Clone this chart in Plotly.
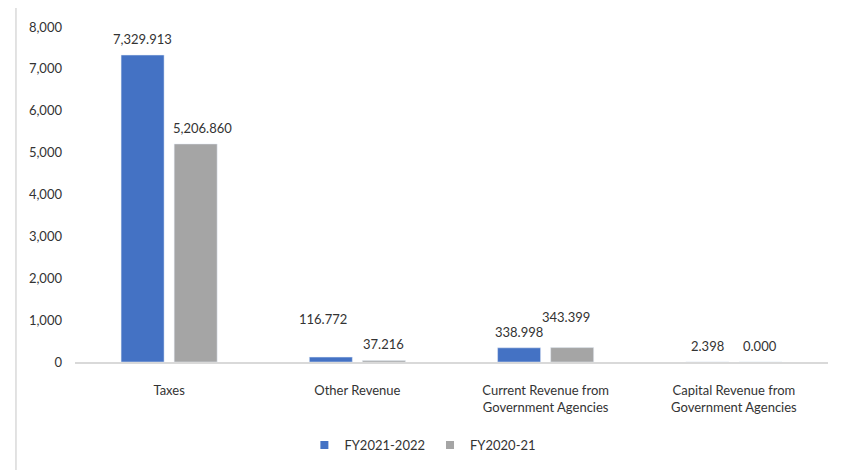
import plotly.graph_objects as go

# data
categories = ["Taxes", "Other Revenue",
              "Current Revenue from<br>Government Agencies",
              "Capital Revenue from<br>Government Agencies"]
fy2122 = [7329.913, 116.772, 338.998, 2.398]
fy2021 = [5206.860, 37.216, 343.399, 0.000]
series_names = ["FY2021-2022", "FY2020-21"]

# label nudges (pixels) the way Excel moved them around
nudge_x_2122 = [0, -8, 0, 0]
nudge_y_2122 = [0, 22, 0, 0]
nudge_x_2021 = [7, 0, -6, 0]
nudge_y_2021 = [0, 0, 15, 0]

BLUE = "#4472C4"
GREY = "#A5A5A5"
TEXT = "#333333"
FONT = "Lato"

fig = go.Figure()

fig.add_trace(go.Bar(x=categories, y=fy2122, name=series_names[0],
                     marker_color=BLUE, showlegend=False))
fig.add_trace(go.Bar(x=categories, y=fy2021, name=series_names[1],
                     marker_color=GREY, showlegend=False))

# small square legend markers
for name, col in zip(series_names, [BLUE, GREY]):
    fig.add_trace(go.Scatter(x=[None], y=[None], mode="markers", name=name,
                             marker=dict(symbol="square", size=8, color=col)))

# data labels
for vals, side, nx, ny in [(fy2122, -26.5, nudge_x_2122, nudge_y_2122),
                           (fy2021, 26.5, nudge_x_2021, nudge_y_2021)]:
    for i, v in enumerate(vals):
        fig.add_annotation(x=i, y=v, xref="x", yref="y",
                           text=f"{v:,.3f}", showarrow=False,
                           xshift=side + nx[i], yshift=16 + ny[i],
                           yanchor="middle",
                           font=dict(family=FONT, size=13, color=TEXT))

# outer chart border (runs off the right/bottom of the picture)
fig.add_shape(type="rect", xref="paper", yref="paper",
              x0=-0.0784, x1=1.05, y0=-0.4, y1=1.0627,
              line=dict(color="#d9d9d9", width=1.5), layer="below")

# page body has an 8px margin, so the figure is 8px smaller each way
fig.update_layout(
    width=838, height=462,
    margin=dict(l=67, r=18, t=19, b=108, autoexpand=False),
    paper_bgcolor="white", plot_bgcolor="white",
    font=dict(family=FONT, size=13, color=TEXT),
    barmode="group", bargap=0.436, bargroupgap=0.19,
    legend=dict(orientation="h", x=0.462, xanchor="center",
                y=0.054, yref="container", yanchor="middle",
                font=dict(family=FONT, size=13, color=TEXT),
                itemwidth=30),
)
fig.update_xaxes(showline=True, linecolor="#d9d9d9", linewidth=1.5,
                 showgrid=False, ticks="", ticklabelstandoff=16,
                 automargin=False,
                 tickfont=dict(family=FONT, size=13, color=TEXT))
fig.update_yaxes(range=[0, 8000], dtick=1000, tickformat=",",
                 showgrid=False, zeroline=False, showline=False,
                 ticks="", ticklabelstandoff=12, automargin=False,
                 tickfont=dict(family=FONT, size=13, color=TEXT))

fig.write_html("out.html")
